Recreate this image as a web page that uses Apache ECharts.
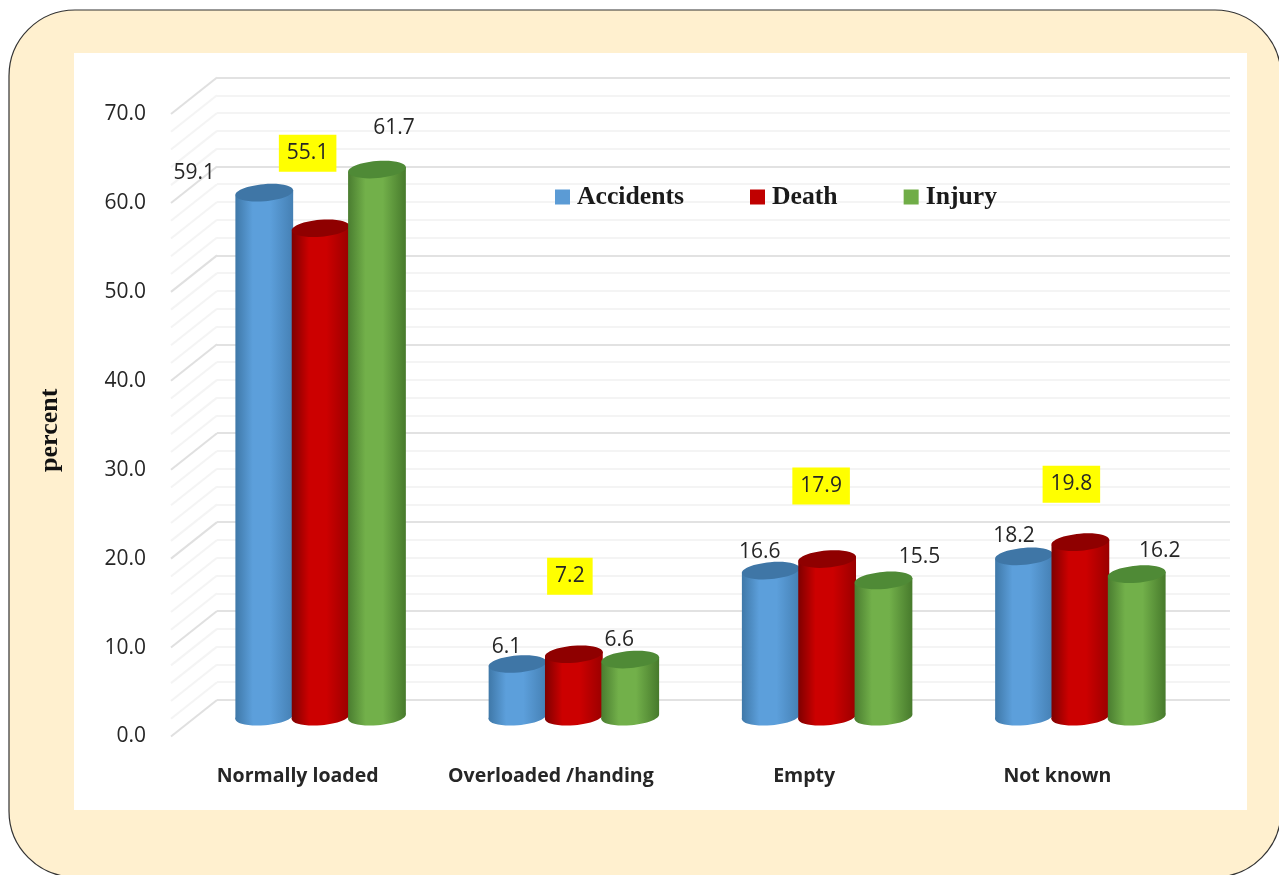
<!DOCTYPE html>
<html><head><meta charset="utf-8">
<style>html,body{margin:0;padding:0;background:#fff}#c{width:1279px;height:875px}</style>
<script src="https://cdn.jsdelivr.net/npm/echarts@6/dist/echarts.min.js"></script>
</head><body><div id="c"></div>
<script>
const categories = ['Normally loaded', 'Overloaded /handing', 'Empty', 'Not known'];
const accidents = [59.1, 6.1, 16.6, 18.2];
const death = [55.1, 7.2, 17.9, 19.8];
const injury = [61.7, 6.6, 15.5, 16.2];
const yMax = 70;
const yStep = 10;
const minorStep = 2;

// label displacement from the top of each cylinder [dx, dy]
const labelShift = [
  [[-70, -20], [-11, -17], [-11, -19], [-10, -20]],
  [[-13, -75], [-4, -78], [-6, -73], [-9, -58]],
  [[17, -42], [-11, -20], [36, -23], [23, -23]]
];

const back = {left: 217, top: 77.5, width: 1013, height: 622.5};
const depthX = 46, depthY = 36.5;
const grid = (f) => ({left: back.left - depthX * f, top: back.top + depthY * f, width: back.width, height: back.height, show: false});

const labelFont = '"Open Sans", sans-serif';
const palettes = [
  {edgeL: '#3f78a8', mid: '#5c9fdb', edgeR: '#4580b4', top: '#3f76a6', key: '#5b9bd5'},
  {edgeL: '#7e0000', mid: '#cc0000', edgeR: '#9a0000', top: '#8f0000', key: '#c00000'},
  {edgeL: '#4a7d30', mid: '#72b04a', edgeR: '#477a2c', top: '#4f8a36', key: '#70ad47'}
];
const tilt = 5 * Math.PI / 180;

function cylinder(sIdx) {
  return function (params, api) {
    const band = api.size([1, 0])[0];
    const step = band * 0.2225, rx = band * 0.1145, ry = 8.5;
    const cat = api.value(0), v = api.value(1);
    const topP = api.coord([cat, v]), baseP = api.coord([cat, 0]);
    const cx = topP[0] + (sIdx - 1) * step;
    const ty = topP[1], by = baseP[1] - 1.5;
    const c = palettes[sIdx];
    const grad = new echarts.graphic.LinearGradient(0, 0, 1, 0, [
      {offset: 0, color: c.edgeL}, {offset: 0.3, color: c.mid},
      {offset: 0.6, color: c.mid}, {offset: 1, color: c.edgeR}
    ]);
    const ox = rx * Math.cos(tilt), oy = rx * Math.sin(tilt);
    const isKey = sIdx === 1;
    const shift = labelShift[sIdx][params.dataIndex];
    const ellipse = (cy, fill) => ({
      type: 'ellipse', shape: {cx: cx, cy: cy, rx: rx, ry: ry},
      originX: cx, originY: cy, rotation: tilt, style: {fill: fill}
    });
    return {
      type: 'group',
      children: [
        ellipse(by, grad),
        {type: 'polygon', shape: {points: [[cx - ox, ty + oy], [cx + ox, ty - oy], [cx + ox, by - oy], [cx - ox, by + oy]]}, style: {fill: grad}},
        ellipse(ty, c.top),
        {
          type: 'text', z2: 50, x: cx + shift[0], y: ty + shift[1],
          style: {
            text: v.toFixed(1), font: '21px ' + labelFont, fill: '#262626',
            align: 'center', verticalAlign: 'middle',
            backgroundColor: isKey ? '#ffff00' : 'transparent',
            padding: isKey ? [8, 8, 8, 8] : 0
          }
        }
      ]
    };
  };
}

const wallTicks = [];
for (let t = 0; t <= yMax; t += minorStep) wallTicks.push([0, t]);

function depthLine(params, api) {
  const y = api.coord([0, api.value(1)])[1];
  const x = params.coordSys.x;
  const major = api.value(1) % yStep === 0;
  return {
    type: 'line',
    shape: {x1: x, y1: y, x2: x - depthX, y2: y + depthY},
    style: {stroke: major ? '#e0e0e0' : '#f4f4f4', lineWidth: 2}
  };
}

const hiddenX = (i, extra) => Object.assign({
  type: 'category', gridIndex: i, data: categories,
  axisLine: {show: false}, axisTick: {show: false}, axisLabel: {show: false}, splitLine: {show: false}
}, extra || {});
const hiddenY = (i, extra) => Object.assign({
  type: 'value', gridIndex: i, min: 0, max: yMax, interval: yStep,
  axisLine: {show: false}, axisTick: {show: false}, axisLabel: {show: false}, splitLine: {show: false}
}, extra || {});

const chart = echarts.init(document.getElementById('c'), null, {renderer: 'canvas'});
const seriesDefs = [['Accidents', accidents], ['Death', death], ['Injury', injury]];
chart.setOption({
  animation: false,
  backgroundColor: '#ffffff',
  graphic: {elements: [
    {type: 'rect', z: -20, silent: true, shape: {x: 9, y: 10, width: 1272, height: 867, r: 66}, style: {fill: '#fff0cf', stroke: '#333333', lineWidth: 1.2}},
    {type: 'rect', z: -19, silent: true, shape: {x: 74, y: 53, width: 1173, height: 757}, style: {fill: '#ffffff'}}
  ]},
  legend: {
    left: 550, top: 179, itemWidth: 15, itemHeight: 15, itemGap: 66, icon: 'rect',
    data: ['Accidents', 'Death', 'Injury'],
    textStyle: {fontFamily: '"Liberation Serif", serif', fontWeight: 'bold', fontSize: 25.7, color: '#1a1a1a', padding: [0, 0, 0, 2]}
  },
  grid: [grid(0), grid(1), grid(0.5)],
  xAxis: [
    hiddenX(0),
    hiddenX(1, {axisLabel: {show: true, margin: 30, fontFamily: labelFont, fontWeight: 'bold', fontSize: 19.5, color: '#262626', interval: 0}}),
    hiddenX(2)
  ],
  yAxis: [
    hiddenY(0, {
      splitLine: {show: true, lineStyle: {color: '#e2e2e2', width: 2}},
      minorTick: {show: false, splitNumber: 5},
      minorSplitLine: {show: true, lineStyle: {color: '#f4f4f4', width: 2}}
    }),
    hiddenY(1, {
      axisLabel: {show: true, margin: 25, fontFamily: labelFont, fontSize: 21, color: '#262626', formatter: (v) => v.toFixed(1)},
      name: 'percent', nameLocation: 'middle', nameRotate: 90, nameGap: 108,
      nameTextStyle: {fontFamily: '"Liberation Serif", serif', fontWeight: 'bold', fontSize: 26, color: '#111111', padding: [0, 10, 0, 0]}
    }),
    hiddenY(2)
  ],
  series: [
    {type: 'custom', name: 'depth', xAxisIndex: 0, yAxisIndex: 0, z: 1, silent: true, data: wallTicks, renderItem: depthLine, clip: false}
  ].concat(seriesDefs.map((d, i) => ({
    type: 'custom', name: d[0], xAxisIndex: 2, yAxisIndex: 2, z: 3 + i,
    itemStyle: {color: palettes[i].key},
    data: d[1].map((v, k) => [k, v]),
    encode: {x: 0, y: 1},
    renderItem: cylinder(i)
  })))
});
</script></body></html>
